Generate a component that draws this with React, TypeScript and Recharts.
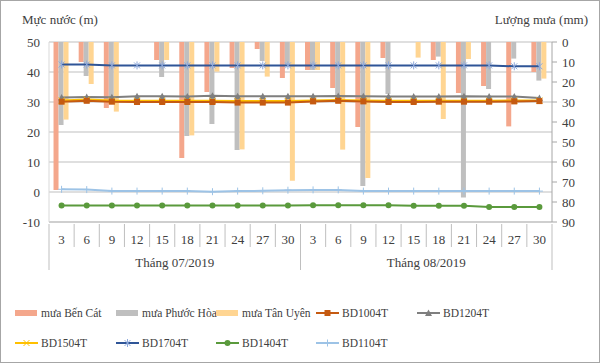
import React from 'react'
import {
  ComposedChart,
  Bar,
  Line,
  XAxis,
  YAxis,
  CartesianGrid,
  Legend,
} from 'recharts'

const FONT = 'Liberation Serif, Times New Roman, serif'
const TEXT = '#404040'

const days = ['3', '6', '9', '12', '15', '18', '21', '24', '27', '30', '3', '6', '9', '12', '15', '18', '21', '24', '27', '30']
const months = ['Tháng 07/2019', 'Tháng 08/2019']

// rainfall (mm), right axis
const muaBenCat = [74, 10, 33, 0, 9, 58, 25, 13, 3.5, 18, 14, 23, 42.5, 8, 0, 9, 25.5, 22, 42.2, 15]
const muaPhuocHoa = [41.5, 17, 29, 0, 17.5, 47, 41, 54, 9.5, 12, 14, 28, 72, 26, 0, 7.3, 77.7, 23.5, 8.3, 19.3]
const muaTanUyen = [38.8, 21, 34.8, 0, 9, 46.7, 14.8, 53.7, 17.3, 69.4, 14, 53.8, 68, 0, 7.8, 38.5, 8.5, 0, 0, 18.3]

// water level (m), left axis
const bd1004 = [30.1, 30.4, 30.1, 30.0, 30.0, 30.0, 30.0, 29.8, 29.8, 29.8, 30.2, 30.4, 30.2, 30.0, 30.0, 30.1, 30.1, 30.1, 30.2, 30.3]
const bd1204 = [31.5, 31.7, 31.6, 31.9, 31.9, 31.8, 32.1, 31.9, 31.9, 31.9, 31.9, 32.0, 31.9, 31.8, 31.8, 31.8, 31.9, 31.8, 31.8, 31.3]
const bd1504 = [30.5, 30.8, 30.5, 30.4, 30.4, 30.4, 30.4, 30.3, 30.3, 30.3, 30.5, 30.7, 30.5, 30.4, 30.4, 30.4, 30.4, 30.4, 30.5, 30.5]
const bd1704 = [42.5, 42.5, 42.2, 42.2, 42.2, 42.2, 42.2, 42.2, 42.2, 42.2, 42.2, 42.2, 42.2, 42.2, 42.2, 42.2, 42.2, 42.2, 41.9, 41.9]
const bd1404 = [-4.5, -4.5, -4.5, -4.5, -4.5, -4.5, -4.5, -4.5, -4.5, -4.5, -4.4, -4.4, -4.4, -4.4, -4.6, -4.6, -4.6, -5.0, -5.0, -5.0]
const bd1104 = [0.9, 0.8, 0.3, 0.3, 0.3, 0.3, 0.1, 0.3, 0.4, 0.6, 0.7, 0.7, 0.3, 0.3, 0.3, 0.3, 0.3, 0.3, 0.3, 0.3]

const levelTicks = [-10, 0, 10, 20, 30, 40, 50]
const rainTicks = [0, 10, 20, 30, 40, 50, 60, 70, 80, 90]

const data = days.map((day, i) => ({
  day,
  benCat: muaBenCat[i],
  phuocHoa: muaPhuocHoa[i],
  tanUyen: muaTanUyen[i],
  bd1004: bd1004[i],
  bd1204: bd1204[i],
  bd1504: bd1504[i],
  bd1704: bd1704[i],
  bd1404: bd1404[i],
  bd1104: bd1104[i],
}))

const PLOT_LEFT = 49
const PLOT_RIGHT = 552
const BAND = (PLOT_RIGHT - PLOT_LEFT) / days.length
const AXIS_GRAY = '#BFBFBF'

type MarkerKind = 'square' | 'triangle' | 'x' | 'star' | 'circle' | 'plus'

function Marker({ kind, cx, cy, color }: { kind: MarkerKind; cx: number; cy: number; color: string }) {
  if (cx == null || cy == null) return null
  const s = 3
  switch (kind) {
    case 'square':
      return <rect x={cx - s} y={cy - s} width={s * 2} height={s * 2} fill={color} />
    case 'triangle':
      return <path d={`M${cx},${cy - 3.5}L${cx + 3.5},${cy + 3}L${cx - 3.5},${cy + 3}Z`} fill={color} />
    case 'circle':
      return <circle cx={cx} cy={cy} r={3} fill={color} />
    case 'x':
      return (
        <path d={`M${cx - s},${cy - s}L${cx + s},${cy + s}M${cx - s},${cy + s}L${cx + s},${cy - s}`} stroke={color} strokeWidth={1} />
      )
    case 'plus':
      return <path d={`M${cx - 3.5},${cy}L${cx + 3.5},${cy}M${cx},${cy - 3.5}L${cx},${cy + 3.5}`} stroke={color} strokeWidth={1} />
    case 'star':
      return (
        <path
          d={`M${cx - s},${cy - s}L${cx + s},${cy + s}M${cx - s},${cy + s}L${cx + s},${cy - s}M${cx},${cy - 4}L${cx},${cy + 4}`}
          stroke={color}
          strokeWidth={1}
        />
      )
  }
  return null
}

const lineSeries: { key: string; name: string; color: string; marker: MarkerKind; markerColor: string }[] = [
  { key: 'bd1004', name: 'BD1004T', color: '#C55A11', marker: 'square', markerColor: '#C55A11' },
  { key: 'bd1204', name: 'BD1204T', color: '#7F7F7F', marker: 'triangle', markerColor: '#7F7F7F' },
  { key: 'bd1504', name: 'BD1504T', color: '#FFC000', marker: 'x', markerColor: '#FFC000' },
  { key: 'bd1704', name: 'BD1704T', color: '#2F5597', marker: 'star', markerColor: '#8FAADC' },
  { key: 'bd1404', name: 'BD1404T', color: '#5A9A3C', marker: 'circle', markerColor: '#5A9A3C' },
  { key: 'bd1104', name: 'BD1104T', color: '#9DC3E6', marker: 'plus', markerColor: '#9DC3E6' },
]

const barSeries = [
  { key: 'benCat', name: 'mưa Bến Cát', color: '#F4A78C' },
  { key: 'phuocHoa', name: 'mưa Phước Hòa', color: '#BFBFBF' },
  { key: 'tanUyen', name: 'mưa Tân Uyên', color: '#FFD592' },
]

function DayTick(props: any) {
  const { x, y, payload, index } = props
  const left = x - BAND / 2
  const right = x + BAND / 2
  const monthStart = index % 10 === 0
  const last = index === days.length - 1
  return (
    <g>
      <line x1={left} y1={y} x2={left} y2={monthStart ? y + 46 : y + 23} stroke={AXIS_GRAY} />
      {last && <line x1={right} y1={y} x2={right} y2={y + 46} stroke={AXIS_GRAY} />}
      <text x={x} y={y + 20} textAnchor="middle" fontSize={13} style={{ fontFamily: FONT }} fill={TEXT}>
        {payload.value}
      </text>
      {index % 10 === 4 && (
        <text x={right} y={y + 43} textAnchor="middle" fontSize={13} style={{ fontFamily: FONT }} fill={TEXT}>
          {months[Math.floor(index / 10)]}
        </text>
      )}
    </g>
  )
}

function AxisTitle({ tx, ty, anchor, text }: { tx: number; ty: number; anchor: string; text: string }) {
  return (
    <text x={tx} y={ty} textAnchor={anchor as any} fontSize={13} style={{ fontFamily: FONT }} fill={TEXT}>
      {text}
    </text>
  )
}

function LegendBox() {
  const cols = [15, 116, 216, 316, 417]
  const rows = [23, 53]
  const items = [
    ...barSeries.map((b) => ({ type: 'bar' as const, name: b.name, color: b.color })),
    ...lineSeries.map((l) => ({ type: 'line' as const, name: l.name, color: l.color, marker: l.marker, markerColor: l.markerColor })),
  ]
  return (
    <svg width={600} height={70} style={{ display: 'block' }}>
      {items.map((it, i) => {
        const x = cols[i % 5]
        const y = rows[Math.floor(i / 5)]
        return (
          <g key={it.name}>
            {it.type === 'bar' ? (
              <rect x={x} y={y - 3} width={22} height={6} fill={it.color} />
            ) : (
              <g>
                <line x1={x} y1={y} x2={x + 23} y2={y} stroke={it.color} strokeWidth={2} />
                <Marker kind={(it as any).marker} cx={x + 11.5} cy={y} color={(it as any).markerColor} />
              </g>
            )}
            <text x={x + 26} y={y + 4} fontSize={11.5} style={{ fontFamily: FONT }} fill={TEXT}>
              {it.name}
            </text>
          </g>
        )
      })}
    </svg>
  )
}

const tickStyle = { fontSize: 13, fontFamily: FONT, fill: TEXT }

export default function App() {
  return (
    <div style={{ position: 'absolute', left: 0, top: 0, width: 600, height: 363, background: '#fff', fontFamily: FONT }}>
      <ComposedChart
        width={600}
        height={363}
        data={data}
        margin={{ top: 42, right: 8, left: 9, bottom: 91 }}
        barCategoryGap="18%"
        barGap={0}
        style={{ fontFamily: FONT }}
      >
        <CartesianGrid yAxisId="level" vertical={false} stroke={AXIS_GRAY} />
        <XAxis
          dataKey="day"
          interval={0}
          height={50}
          tickLine={false}
          tickSize={0}
          axisLine={{ stroke: AXIS_GRAY }}
          tick={<DayTick />}
        />
        <YAxis
          yAxisId="level"
          domain={[-10, 50]}
          ticks={levelTicks}
          interval={0}
          width={40}
          tickLine={false}
          tickSize={0}
          tickMargin={9}
          axisLine={{ stroke: '#D9D9D9' }}
          tick={tickStyle}
          label={<AxisTitle tx={22} ty={24} anchor="start" text="Mực nước (m)" />}
        />
        <YAxis
          yAxisId="rain"
          orientation="right"
          domain={[0, 90]}
          ticks={rainTicks}
          interval={0}
          reversed
          width={40}
          tickSize={5}
          tickMargin={5}
          tickLine={{ stroke: '#A6A6A6' }}
          axisLine={{ stroke: '#A6A6A6' }}
          tick={tickStyle}
          label={<AxisTitle tx={588} ty={24} anchor="end" text="Lượng mưa (mm)" />}
        />
        {barSeries.map((b) => (
          <Bar key={b.key} yAxisId="rain" dataKey={b.key} name={b.name} fill={b.color} isAnimationActive={false} />
        ))}
        {['bd1204', 'bd1504', 'bd1004', 'bd1704', 'bd1404', 'bd1104'].map((k) => {
          const s = lineSeries.find((l) => l.key === k)!
          return (
            <Line
              key={s.key}
              yAxisId="level"
              dataKey={s.key}
              name={s.name}
              stroke={s.color}
              strokeWidth={2}
              isAnimationActive={false}
              dot={(p: any) => (
                <Marker key={`${s.key}-${p.index}`} kind={s.marker} cx={p.cx} cy={p.cy} color={s.markerColor} />
              )}
              activeDot={false}
            />
          )
        })}
        <Legend
          layout="horizontal"
          verticalAlign="middle"
          align="center"
          wrapperStyle={{ left: 0, top: 290, width: 600, height: 70 }}
          content={() => <LegendBox />}
        />
      </ComposedChart>
      <div
        style={{
          position: 'absolute',
          left: 0,
          top: 0,
          width: 600,
          height: 363,
          boxSizing: 'border-box',
          border: '1px solid #A6A6A6',
          pointerEvents: 'none',
        }}
      />
    </div>
  )
}
